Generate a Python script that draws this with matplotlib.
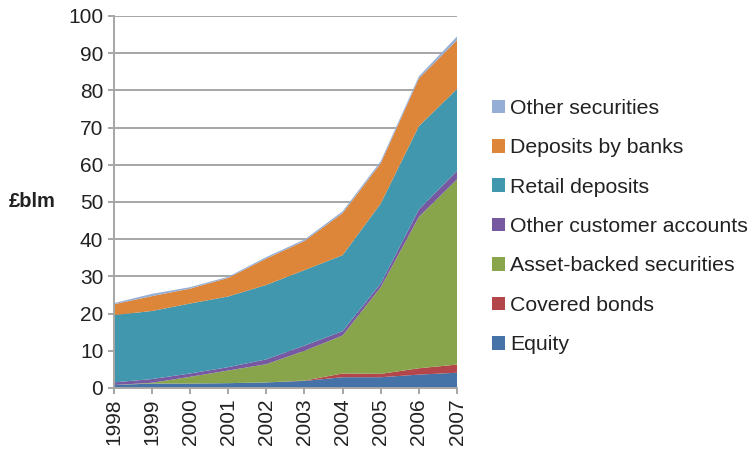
import numpy as np
import matplotlib.pyplot as plt
from matplotlib.patches import Patch

plt.rcParams['font.family'] = ['Liberation Sans', 'DejaVu Sans']

years = [1998, 1999, 2000, 2001, 2002, 2003, 2004, 2005, 2006, 2007]

# layer values, £bn
equity = [0.8, 1.2, 1.2, 1.3, 1.5, 1.9, 2.9, 2.9, 3.6, 4.1]
covered = [0.0, 0.0, 0.0, 0.0, 0.0, 0.1, 1.0, 0.9, 1.7, 2.2]
abs_sec = [0.0, 0.2, 1.8, 3.4, 4.9, 8.0, 10.2, 23.3, 40.7, 49.8]
other_cust = [0.7, 1.0, 0.9, 0.9, 1.3, 1.4, 1.2, 1.0, 2.0, 2.3]
retail = [18.1, 18.3, 18.8, 19.0, 20.0, 20.3, 20.4, 21.5, 22.4, 22.0]
dep_banks = [2.9, 4.0, 4.0, 5.0, 7.1, 7.8, 11.3, 10.8, 12.8, 13.1]
other_sec = [0.3, 0.6, 0.4, 0.3, 0.4, 0.4, 0.5, 0.6, 0.6, 1.0]

labels = ['Equity', 'Covered bonds', 'Asset-backed securities',
          'Other customer accounts', 'Retail deposits', 'Deposits by banks',
          'Other securities']
colors = ['#4573a8', '#b2464a', '#89a54b', '#7659a0', '#4198ae', '#dd8539', '#95aed5']

fig = plt.figure(figsize=(7.53, 4.53), dpi=100)
ax = fig.add_axes([0.151, 0.1435, 0.456, 0.8212])

ax.stackplot(years, equity, covered, abs_sec, other_cust, retail, dep_banks,
             other_sec, colors=colors, linewidth=0, zorder=2)

ax.set_xlim(1998, 2007)
ax.set_ylim(0, 100)
ax.set_yticks(range(0, 101, 10))
ax.set_xticks(years)
ax.set_xticklabels([str(y) for y in years], rotation=90)

grid_c = '#a6a6a6'
ax.yaxis.grid(True, color=grid_c, linewidth=1.4, zorder=0)
ax.set_axisbelow(True)
for s in ['top', 'right']:
    ax.spines[s].set_visible(False)
for s in ['left', 'bottom']:
    ax.spines[s].set_color(grid_c)
    ax.spines[s].set_linewidth(1.4)
ax.tick_params(axis='both', colors=grid_c, length=4.5, width=1.4,
               labelcolor='#222222', labelsize=15, pad=3)

fig.text(0.011, 0.555, '£blm', fontsize=14.5, fontweight='bold', color='#222222',
         va='center', ha='left')

handles = [Patch(facecolor=c, edgecolor='none') for c in colors]
leg = ax.legend(handles[::-1], labels[::-1], loc='center left',
                bbox_to_anchor=(1.102, 0.434), frameon=False, fontsize=15.3,
                handlelength=0.61, handleheight=0.61, handletextpad=0.24,
                labelspacing=0.96, borderpad=0, borderaxespad=0)
for t in leg.get_texts():
    t.set_color('#222222')

fig.savefig('out.png', dpi=100)
